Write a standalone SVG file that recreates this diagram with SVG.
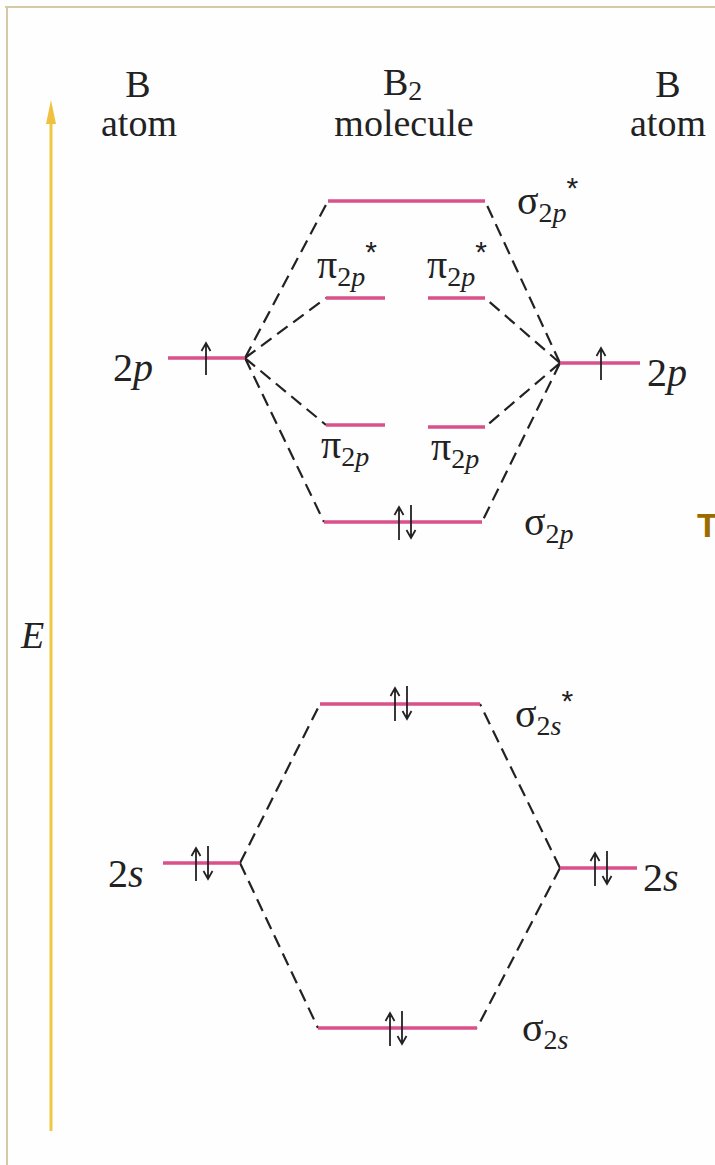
<svg xmlns="http://www.w3.org/2000/svg" width="715" height="1165" viewBox="0 0 715 1165">
<style>
.bg{fill:#fefefe}
.border{stroke:#d8c9a6;stroke-width:2;fill:none}
.axis{stroke:#f0c844;stroke-width:3;fill:none}
.lvl{stroke:#d9508a;stroke-width:3.5;fill:none}
.dash{stroke:#222;stroke-width:2.2;stroke-dasharray:13 7;fill:none}
.spin{stroke:#222;stroke-width:1.8;fill:none;stroke-linejoin:miter}
.t{font-family:"Liberation Serif","Times New Roman",serif;font-size:38px;fill:#222}
.lab{font-size:40px}
.it{font-style:italic}
.sub{font-size:28px}
.star{font-family:"Liberation Sans",Arial,sans-serif;font-size:30px}
</style>
<rect class="bg" x="0" y="0" width="715" height="1165"/>
<path class="border" d="M5,7 H715 M7,7 V1165"/>
<g id="energy-axis">
<line class="axis" x1="51" y1="1131" x2="51" y2="118"/>
<polygon points="51,100 46,124 56,124" fill="#f0c040"/>
<text class="t it" x="21" y="648">E</text>
</g>
<g id="headers">
<text class="t" x="138" y="97" text-anchor="middle">B</text>
<text class="t" x="139" y="136" text-anchor="middle">atom</text>
<text class="t" x="383" y="95">B<tspan class="sub" dy="5">2</tspan></text>
<text class="t" x="404" y="136" text-anchor="middle">molecule</text>
<text class="t" x="668" y="97" text-anchor="middle">B</text>
<text class="t" x="668" y="136" text-anchor="middle">atom</text>
</g>
<g id="connectors">
<path class="dash" d="M245,358 L328,201 M245,358 L326,298 M245,358 L326,425 M245,358 L324,522"/>
<path class="dash" d="M560,363 L485,201 M560,363 L485,298 M560,363 L485,427 M560,363 L482,522"/>
<path class="dash" d="M240,863 L320,704 M240,863 L318,1028 M560,868 L480,704 M560,868 L477,1028"/>
</g>
<g id="left-2p">
<line class="lvl" x1="168" y1="358" x2="245" y2="358"/>
<path class="spin" d="M206,375 V343 M201.5,351 L206,343 L210.5,351"/>
<text class="t lab" x="113" y="381">2<tspan class="it">p</tspan></text>
</g>
<g id="right-2p">
<line class="lvl" x1="560" y1="363" x2="640" y2="363"/>
<path class="spin" d="M601,380 V348 M596.5,356 L601,348 L605.5,356"/>
<text class="t lab" x="647" y="386">2<tspan class="it">p</tspan></text>
</g>
<g id="sigma2p-star">
<line class="lvl" x1="328" y1="201" x2="485" y2="201"/>
<text class="t lab" x="517" y="214">σ<tspan class="sub" dy="8">2</tspan><tspan class="sub it">p</tspan><tspan class="star" dy="-24">*</tspan></text>
</g>
<g id="pi2p-star-left">
<line class="lvl" x1="326" y1="298" x2="385" y2="298"/>
<text class="t lab" x="317" y="278">π<tspan class="sub" dy="8">2</tspan><tspan class="sub it">p</tspan><tspan class="star" dy="-24">*</tspan></text>
</g>
<g id="pi2p-star-right">
<line class="lvl" x1="428" y1="298" x2="485" y2="298"/>
<text class="t lab" x="427" y="278">π<tspan class="sub" dy="8">2</tspan><tspan class="sub it">p</tspan><tspan class="star" dy="-24">*</tspan></text>
</g>
<g id="pi2p-left">
<line class="lvl" x1="326" y1="425" x2="385" y2="425"/>
<text class="t lab" x="321" y="458">π<tspan class="sub" dy="8">2</tspan><tspan class="sub it">p</tspan></text>
</g>
<g id="pi2p-right">
<line class="lvl" x1="428" y1="427" x2="485" y2="427"/>
<text class="t lab" x="431" y="460">π<tspan class="sub" dy="8">2</tspan><tspan class="sub it">p</tspan></text>
</g>
<g id="sigma2p">
<line class="lvl" x1="324" y1="522" x2="482" y2="522"/>
<path class="spin" d="M399,540 V507 M394.5,515 L399,507 L403.5,515 M411,505 V538 M406.5,530 L411,538 L415.5,530"/>
<text class="t lab" x="524" y="535">σ<tspan class="sub" dy="8">2</tspan><tspan class="sub it">p</tspan></text>
</g>
<g id="sigma2s-star">
<line class="lvl" x1="320" y1="704" x2="480" y2="704"/>
<path class="spin" d="M395,721 V688 M390.5,696 L395,688 L399.5,696 M407,686 V719 M402.5,711 L407,719 L411.5,711"/>
<text class="t lab" x="515" y="727">σ<tspan class="sub" dy="8">2</tspan><tspan class="sub it">s</tspan><tspan class="star" dy="-24">*</tspan></text>
</g>
<g id="left-2s">
<line class="lvl" x1="163" y1="863" x2="240" y2="863"/>
<path class="spin" d="M196,881 V848 M191.5,856 L196,848 L200.5,856 M208,846 V879 M203.5,871 L208,879 L212.5,871"/>
<text class="t lab" x="108" y="887">2<tspan class="it">s</tspan></text>
</g>
<g id="right-2s">
<line class="lvl" x1="560" y1="868" x2="637" y2="868"/>
<path class="spin" d="M595,886 V853 M590.5,861 L595,853 L599.5,861 M607,851 V884 M602.5,876 L607,884 L611.5,876"/>
<text class="t lab" x="643" y="891">2<tspan class="it">s</tspan></text>
</g>
<g id="sigma2s">
<line class="lvl" x1="318" y1="1028" x2="477" y2="1028"/>
<path class="spin" d="M390,1046 V1013 M385.5,1021 L390,1013 L394.5,1021 M402,1011 V1044 M397.5,1036 L402,1044 L406.5,1036"/>
<text class="t lab" x="522" y="1041">σ<tspan class="sub" dy="8">2</tspan><tspan class="sub it">s</tspan></text>
</g>
<text x="697" y="537" font-family="Liberation Sans,Arial,sans-serif" font-weight="bold" font-size="34" fill="#9b6b00">T</text>
</svg>
